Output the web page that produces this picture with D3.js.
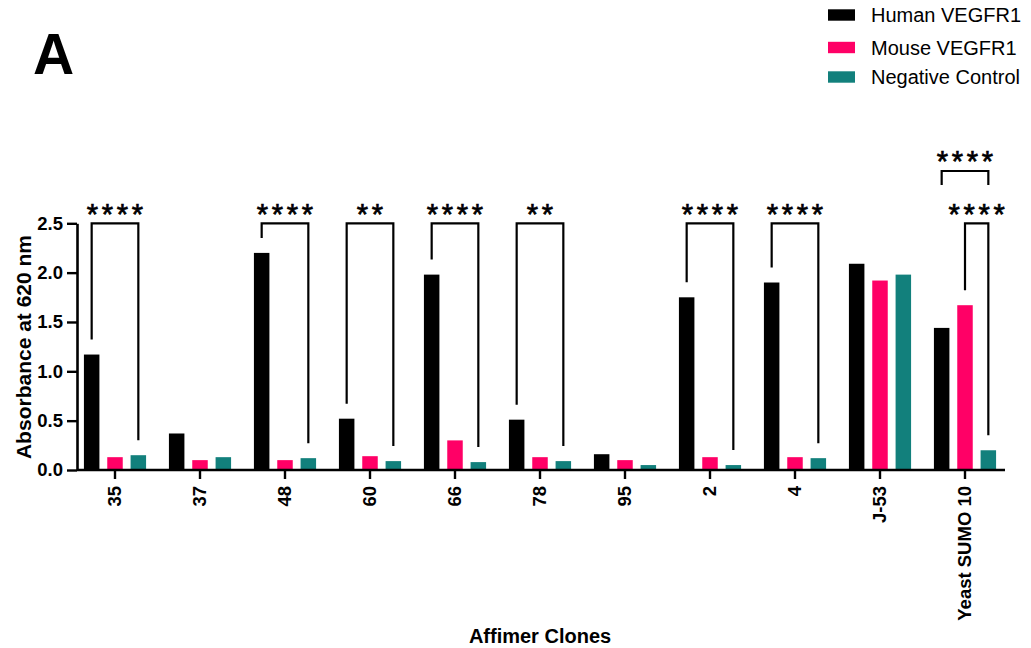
<!DOCTYPE html>
<html>
<head>
<meta charset="utf-8">
<script src="https://cdn.jsdelivr.net/npm/d3@7"></script>
<style>
  body { margin: 0; background: #fff; }
  svg { display: block; font-family: "Liberation Sans", Arial, sans-serif; }
</style>
</head>
<body>
<svg id="chart" width="1031" height="648"></svg>
<script>
// ---- data ----
var clones = ["35", "37", "48", "60", "66", "78", "95", "2", "4", "J-53", "Yeast SUMO 10"];
var seriesNames = ["Human VEGFR1", "Mouse VEGFR1", "Negative Control"];
var seriesColors = ["#000000", "#ff0066", "#12807c"];
var human = [1.17, 0.37, 2.20, 0.52, 1.98, 0.51, 0.16, 1.75, 1.90, 2.09, 1.44];
var mouse = [0.13, 0.10, 0.10, 0.14, 0.30, 0.13, 0.10, 0.13, 0.13, 1.92, 1.67];
var negative = [0.15, 0.13, 0.12, 0.09, 0.08, 0.09, 0.05, 0.05, 0.12, 1.98, 0.20];
var yTicks = [0, 0.5, 1.0, 1.5, 2.0, 2.5];
// significance brackets: clone, from series, to series, bracket height, label
var sigClone = ["35", "48", "60", "66", "78", "2", "4", "Yeast SUMO 10", "Yeast SUMO 10"];
var sigFrom = [0, 0, 0, 0, 0, 0, 0, 0, 1];
var sigTo = [2, 2, 2, 2, 2, 2, 2, 2, 2];
var sigLevel = [2.5, 2.5, 2.5, 2.5, 2.5, 2.5, 2.5, 3.03, 2.5];
var sigLabel = ["****", "****", "**", "****", "**", "****", "****", "****", "****"];

var allSeries = [human, mouse, negative];

var svg = d3.select("#chart");

var x = d3.scaleBand().domain(clones).range([72.5, 1007.5]);
var x1 = d3.scaleBand().domain(d3.range(3)).range([-35, 35]).paddingInner(0.336).paddingOuter(0.168);
var y = d3.scaleLinear().domain([0, 2.5]).range([470, 223.3]);

function cx(clone, s) {
    return x(clone) + x.bandwidth() / 2 + x1(s) + x1.bandwidth() / 2;
}

// bars
var g = svg.append("g");
clones.forEach(function(c, i) {
    g.selectAll(null)
        .data(allSeries.map(function(arr, s) { return {s: s, v: arr[i]}; }))
        .enter()
        .append("rect")
        .attr("x", function(d) { return x(c) + x.bandwidth() / 2 + x1(d.s); })
        .attr("width", x1.bandwidth())
        .attr("y", function(d) { return y(d.v); })
        .attr("height", function(d) { return y(0) - y(d.v); })
        .attr("fill", function(d) { return seriesColors[d.s]; });
});

// y axis
var yAxis = svg.append("g")
    .attr("transform", "translate(77,0)")
    .call(d3.axisLeft(y).tickValues(yTicks).tickFormat(d3.format(".1f")).tickSize(10).tickSizeOuter(0));
yAxis.select(".domain").attr("stroke-width", 2.6);
yAxis.selectAll(".tick line").attr("stroke-width", 2.4);
yAxis.selectAll(".tick text")
    .attr("font-size", 18.5).attr("font-weight", "bold").attr("x", -14)
    .attr("font-family", "Liberation Sans, Arial, sans-serif").attr("fill", "#000");

// x axis
var xAxis = svg.append("g")
    .attr("transform", "translate(0,470)")
    .call(d3.axisBottom(x).tickSize(9).tickSizeOuter(0));
xAxis.select(".domain").attr("d", "M77,0H1005").attr("stroke-width", 2.6);
xAxis.selectAll(".tick line").attr("stroke-width", 2.4);
xAxis.selectAll(".tick text")
    .attr("font-size", 18.5).attr("font-weight", "bold")
    .attr("font-family", "Liberation Sans, Arial, sans-serif").attr("fill", "#000")
    .attr("transform", "rotate(-90)")
    .attr("text-anchor", "end")
    .attr("x", -16).attr("y", 0).attr("dy", "0.35em");

// axis titles
svg.append("text")
    .attr("transform", "translate(31,347) rotate(-90)")
    .attr("text-anchor", "middle")
    .attr("font-size", 21).attr("font-weight", "bold")
    .text("Absorbance at 620 nm");

svg.append("text")
    .attr("x", 540).attr("y", 643)
    .attr("text-anchor", "middle")
    .attr("font-size", 20).attr("font-weight", "bold")
    .text("Affimer Clones");

// panel letter
svg.append("text")
    .attr("x", 33).attr("y", 74)
    .attr("font-size", 57).attr("font-weight", "bold")
    .text("A");

// significance brackets
var starSpacing = 3.7;
sigClone.forEach(function(c, k) {
    var i = clones.indexOf(c);
    var a = sigFrom[k], b = sigTo[k];
    var xa = cx(c, a), xb = cx(c, b);
    var top = y(sigLevel[k]);
    var ya = y(allSeries[a][i]) - 15, yb = y(allSeries[b][i]) - 15;
    if (sigLevel[k] > 2.6) { ya = top + 14; yb = top + 14; }
    svg.append("path")
        .attr("d", "M" + xa + "," + ya + "V" + top + "H" + xb + "V" + yb)
        .attr("fill", "none").attr("stroke", "#000").attr("stroke-width", 2.2);
    svg.append("text")
        .attr("x", (xa + xb) / 2).attr("y", top + 0.5)
        .attr("dx", starSpacing / 2)
        .attr("text-anchor", "middle")
        .attr("font-size", 29)
        .attr("letter-spacing", starSpacing)
        .attr("stroke", "#000").attr("stroke-width", 0.7)
        .text(sigLabel[k]);
});

// legend
var legendY = [15, 47.5, 77];
seriesNames.forEach(function(n, s) {
    svg.append("rect")
        .attr("x", 828).attr("y", legendY[s] - 5.7)
        .attr("width", 27).attr("height", 11.4)
        .attr("fill", seriesColors[s]);
    svg.append("text")
        .attr("x", 871).attr("y", legendY[s]).attr("dy", "0.36em")
        .attr("font-size", 20)
        .text(n);
});
</script>
</body>
</html>
